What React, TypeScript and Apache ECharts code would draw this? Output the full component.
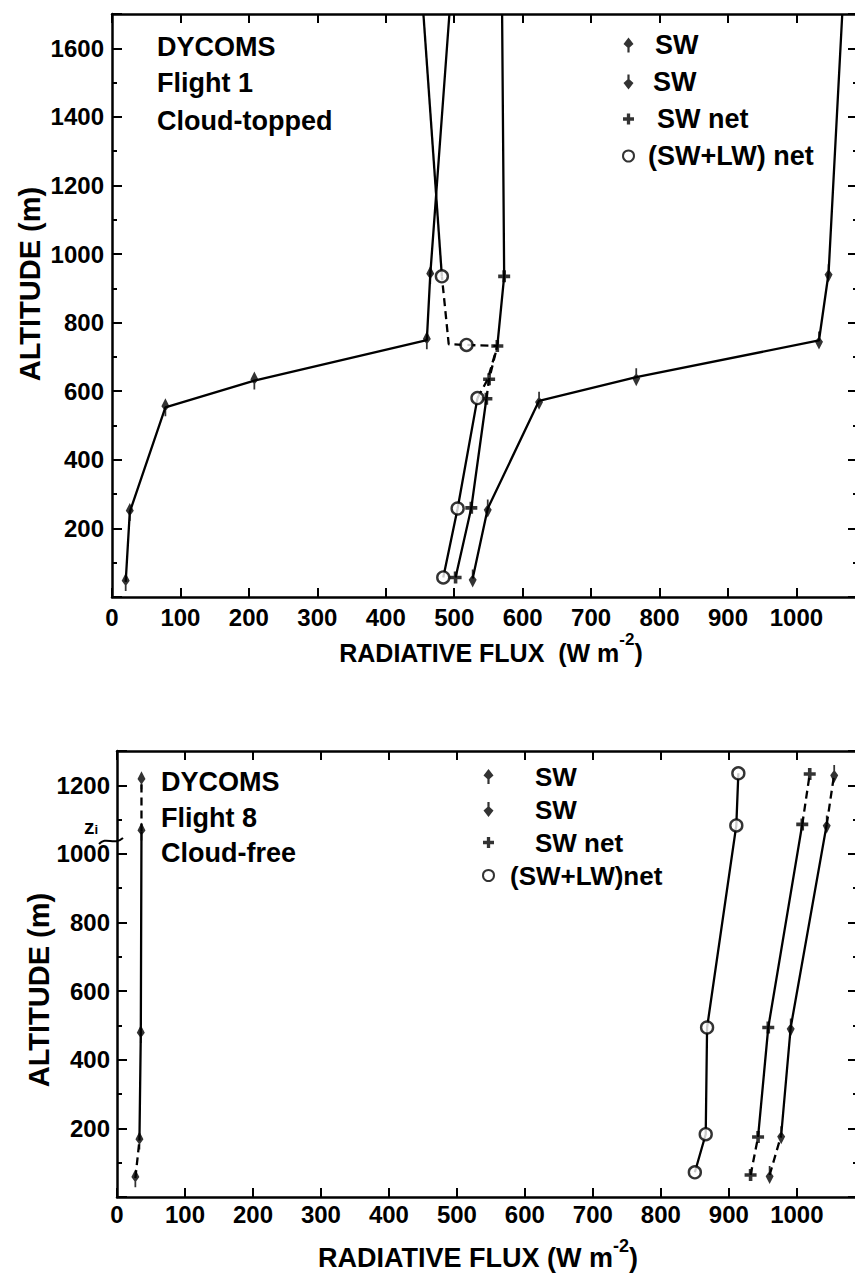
import React, { useEffect, useRef } from "react";
import * as echarts from "echarts";

// ---- Flight 1 (cloud-topped) profiles: flux in W m-2, altitude in m ----
const f1UpFlux = [20, 26, 78, 208, 460, 465, 493];
const f1UpAlt = [44, 248, 553, 631, 749, 939, 1700];
const f1UpMark = [1, 1, 1, 1, 1, 1, 0];
const f1UpDash = [0, 0, 0, 0, 0, 0];

const f1DownFlux = [527, 549, 624, 766, 1033, 1047, 1067];
const f1DownAlt = [54, 258, 572, 641, 748, 944, 1700];
const f1DownMark = [1, 1, 1, 1, 1, 1, 0];
const f1DownDash = [0, 0, 0, 0, 0, 0];

const f1NetFlux = [502, 525, 547, 551, 563, 573, 570];
const f1NetAlt = [57, 260, 578, 635, 732, 935, 1700];
const f1NetMark = [1, 1, 1, 1, 1, 1, 0];
const f1NetDash = [0, 0, 1, 1, 0, 0];

const f1TotFlux = [484, 505, 534, 549, 563, 518, 492, 482, 455];
const f1TotAlt = [57, 258, 580, 635, 732, 735, 737, 935, 1700];
const f1TotMark = [1, 1, 1, 0, 0, 1, 0, 1, 0];
const f1TotDash = [0, 0, 1, 1, 1, 1, 1, 0];

// ---- Flight 8 (cloud-free) profiles ----
const f8UpFlux = [27, 33, 35, 36, 36];
const f8UpAlt = [55, 165, 475, 1065, 1215];
const f8UpDash = [1, 0, 0, 1];

const f8TotFlux = [850, 866, 868, 911, 914];
const f8TotAlt = [72, 183, 494, 1083, 1235];
const f8TotDash = [0, 0, 0, 0];

const f8NetFlux = [932, 943, 958, 1008, 1019];
const f8NetAlt = [64, 175, 494, 1086, 1233];
const f8NetDash = [1, 0, 0, 1];

const f8DownFlux = [960, 977, 991, 1044, 1055];
const f8DownAlt = [64, 180, 494, 1086, 1233];
const f8DownDash = [1, 0, 0, 1];

// axis extents and tick steps
const fluxMax = 1090;
const fluxStep = 100;
const alt1Max = 1700;
const alt8Max = 1300;
const altLabelStep = 200;
const altMinorStep = 100;

// legend / annotation texts
const legendLabels: Record<string, string> = {
  "f1 SW up": "SW",
  "f1 SW down": "SW",
  "f1 SW net": "SW net",
  "f1 SW+LW net": "(SW+LW) net",
  "f8 SW up": "SW",
  "f8 SW down": "SW",
  "f8 SW net": "SW net",
  "f8 SW+LW net": "(SW+LW)net",
};
const f1Title = ["DYCOMS", "Flight 1", "Cloud-topped"];
const f8Title = ["DYCOMS", "Flight 8", "Cloud-free"];

const FONT = '"Liberation Sans", Arial, sans-serif';
const UP = "path://M5,0 L10,6.5 L6.1,10 L6.1,15 L3.9,15 L3.9,10 L0,6.5 Z";
const DOWN = "path://M5,15 L10,8.5 L6.1,5 L6.1,0 L3.9,0 L3.9,5 L0,8.5 Z";
const PLUS = "path://M3.5,0 H6.5 V3.5 H10 V6.5 H6.5 V10 H3.5 V6.5 H0 V3.5 H3.5 Z";

function pairs(xs: number[], ys: number[]) {
  return xs.map((x, i) => [x, ys[i]]);
}

// one line series per run of equally styled segments
function lineRuns(xs: number[], ys: number[], dashes: number[], xi: number, yi: number) {
  const out: any[] = [];
  let start = 0;
  for (let i = 1; i <= dashes.length; i++) {
    if (i === dashes.length || dashes[i] !== dashes[start]) {
      const dashed = dashes[start] === 1;
      out.push({
        type: "line",
        xAxisIndex: xi,
        yAxisIndex: yi,
        data: pairs(xs.slice(start, i + 1), ys.slice(start, i + 1)),
        symbol: "none",
        silent: true,
        z: 2,
        lineStyle: { color: "#000", width: 2.3, type: dashed ? [8, 5] : "solid" },
      });
      start = i;
    }
  }
  return out;
}

function markers(name: string, xs: number[], ys: number[], mark: number[] | null, symbol: string, size: any, xi: number, yi: number, hollow = false) {
  const data = pairs(xs, ys).filter((_, i) => !mark || mark[i] === 1);
  return {
    type: "scatter",
    name,
    xAxisIndex: xi,
    yAxisIndex: yi,
    data,
    symbol,
    symbolSize: size,
    symbolKeepAspect: true,
    z: 5,
    silent: true,
    itemStyle: hollow
      ? { color: "#fff", borderColor: "#000", borderWidth: 2.4 }
      : { color: "#000" },
  };
}

function xAxes(grid: number, margin: number) {
  const common = {
    type: "value",
    gridIndex: grid,
    min: 0,
    max: fluxMax,
    interval: fluxStep,
    splitLine: { show: false },
    axisLine: { show: true, onZero: false, lineStyle: { color: "#000", width: 2.5 } },
    axisTick: { show: true, inside: true, length: 9, lineStyle: { color: "#000", width: 2 } },
  };
  return [
    {
      ...common,
      position: "bottom",
      axisLabel: {
        show: true,
        margin,
        color: "#000",
        fontFamily: FONT,
        fontWeight: "bold",
        fontSize: 24,
        formatter: (v: number) => (v % fluxStep === 0 ? String(v) : ""),
      },
    },
    { ...common, position: "top", axisLabel: { show: false } },
  ];
}

function yAxes(grid: number, max: number, margin: number) {
  const base = {
    type: "value",
    gridIndex: grid,
    min: 0,
    max,
    splitLine: { show: false },
  };
  const line = (show: boolean) => ({
    show,
    onZero: false,
    lineStyle: { color: "#000", width: 2.5 },
  });
  const major = (position: string, labels: boolean) => ({
    ...base,
    position,
    interval: altLabelStep,
    axisLine: line(position === "left"),
    axisTick: { show: true, inside: true, length: 10, lineStyle: { color: "#000", width: 2 } },
    axisLabel: labels
      ? {
          show: true,
          margin,
          color: "#000",
          fontFamily: FONT,
          fontWeight: "bold",
          fontSize: 24,
          formatter: (v: number) => (v > 0 && v % altLabelStep === 0 ? String(v) : ""),
        }
      : { show: false },
  });
  const minor = (position: string) => ({
    ...base,
    position,
    interval: altMinorStep,
    axisLine: line(false),
    axisTick: { show: true, inside: true, length: 5, lineStyle: { color: "#000", width: 2 } },
    axisLabel: { show: false },
  });
  return [major("left", true), minor("left"), major("right", false), minor("right")];
}

function titleBlock(lines: string[], x: number, ys: number[], size: number) {
  return lines.map((t, i) => ({
    type: "text",
    x,
    y: ys[i],
    silent: true,
    style: {
      text: t,
      fill: "#000",
      font: `bold ${size}px ${FONT}`,
      align: "left",
      verticalAlign: "middle",
    },
  }));
}

function fluxTitle(x: number, y: number, size: number, gap: string) {
  return {
    type: "text",
    x,
    y,
    silent: true,
    style: {
      text: `{a|RADIATIVE FLUX${gap}(W m}{s|-2}{a|)}`,
      align: "center",
      verticalAlign: "middle",
      rich: {
        a: { fontFamily: FONT, fontWeight: "bold", fontSize: size, fill: "#000", lineHeight: 34, verticalAlign: "bottom" },
        s: { fontFamily: FONT, fontWeight: "bold", fontSize: Math.round(size * 0.68), fill: "#000", lineHeight: 18, verticalAlign: "top" },
      },
    },
  };
}

function altTitle(x: number, y: number, size: number) {
  return {
    type: "text",
    x,
    y,
    rotation: Math.PI / 2,
    silent: true,
    style: {
      text: "ALTITUDE (m)",
      fill: "#000",
      font: `bold ${size}px ${FONT}`,
      align: "center",
      verticalAlign: "middle",
    },
  };
}

function legendBlock(names: string[], icons: string[], pads: number[], left: number, top: number, gap: number, size: number, lh: number) {
  return {
    orient: "vertical",
    left,
    top,
    padding: 0,
    itemGap: gap,
    itemWidth: 11,
    itemHeight: 15,
    selectedMode: false,
    formatter: (n: string) => legendLabels[n],
    textStyle: { fontFamily: FONT, fontWeight: "bold", fontSize: size, color: "#000", lineHeight: lh },
    data: names.map((n, i) => ({ name: n, icon: icons[i], textStyle: { padding: [0, 0, 0, pads[i]] } })),
  };
}

export default function App() {
  const ref = useRef<HTMLDivElement>(null);

  useEffect(() => {
    if (!ref.current) return;
    const chart = echarts.init(ref.current, null, { renderer: "svg" });

    const series: any[] = [
      // Flight 1
      ...lineRuns(f1UpFlux, f1UpAlt, f1UpDash, 0, 0),
      ...lineRuns(f1DownFlux, f1DownAlt, f1DownDash, 0, 0),
      ...lineRuns(f1NetFlux, f1NetAlt, f1NetDash, 0, 0),
      ...lineRuns(f1TotFlux, f1TotAlt, f1TotDash, 0, 0),
      markers("f1 SW up", f1UpFlux, f1UpAlt, f1UpMark, UP, [12, 18], 0, 0),
      markers("f1 SW down", f1DownFlux, f1DownAlt, f1DownMark, DOWN, [12, 18], 0, 0),
      markers("f1 SW net", f1NetFlux, f1NetAlt, f1NetMark, PLUS, 12, 0, 0),
      markers("f1 SW+LW net", f1TotFlux, f1TotAlt, f1TotMark, "circle", 12, 0, 0, true),
      // Flight 8
      ...lineRuns(f8UpFlux, f8UpAlt, f8UpDash, 2, 4),
      ...lineRuns(f8TotFlux, f8TotAlt, f8TotDash, 2, 4),
      ...lineRuns(f8NetFlux, f8NetAlt, f8NetDash, 2, 4),
      ...lineRuns(f8DownFlux, f8DownAlt, f8DownDash, 2, 4),
      markers("f8 SW up", f8UpFlux, f8UpAlt, null, UP, [12, 18], 2, 4),
      markers("f8 SW down", f8DownFlux, f8DownAlt, null, DOWN, [12, 18], 2, 4),
      markers("f8 SW net", f8NetFlux, f8NetAlt, null, PLUS, 12, 2, 4),
      markers("f8 SW+LW net", f8TotFlux, f8TotAlt, null, "circle", 12, 2, 4, true),
    ];

    const graphic: any[] = [
      ...titleBlock(f1Title, 157, [47, 83, 121], 27),
      ...titleBlock(f8Title, 161, [782, 818, 853], 27),
      altTitle(30, 284, 29),
      altTitle(39, 990, 29),
      fluxTitle(491, 648, 25, "  "),
      fluxTitle(478, 1254, 27, " "),
      {
        type: "text",
        x: 91,
        y: 826,
        silent: true,
        style: {
          text: "{z|z}{i|i}",
          align: "center",
          verticalAlign: "middle",
          rich: {
            z: { fontFamily: FONT, fontWeight: "bold", fontSize: 21, fill: "#000", verticalAlign: "top", lineHeight: 20 },
            i: { fontFamily: FONT, fontWeight: "bold", fontSize: 13, fill: "#000", verticalAlign: "bottom", lineHeight: 20 },
          },
        },
      },
      {
        type: "bezierCurve",
        silent: true,
        shape: { x1: 99, y1: 844, x2: 123, y2: 838, cpx1: 106, cpy1: 836, cpx2: 114, cpy2: 846 },
        style: { stroke: "#000", lineWidth: 2, fill: "none" },
      },
    ];

    chart.setOption({
      animation: false,
      backgroundColor: "#fff",
      grid: [
        { left: 112, top: 14, width: 746, height: 583, outerBoundsMode: "none", containLabel: false },
        { left: 117, top: 751, width: 741, height: 446, outerBoundsMode: "none", containLabel: false },
      ],
      xAxis: [...xAxes(0, 8), ...xAxes(1, 5)],
      yAxis: [...yAxes(0, alt1Max, 8), ...yAxes(1, alt8Max, 7)],
      legend: [
        legendBlock(
          ["f1 SW up", "f1 SW down", "f1 SW net", "f1 SW+LW net"],
          [UP, DOWN, PLUS, "circle"],
          [16, 14, 18, 9],
          622,
          30,
          7,
          27,
          30
        ),
        legendBlock(
          ["f8 SW up", "f8 SW down", "f8 SW net", "f8 SW+LW net"],
          [UP, DOWN, PLUS, "circle"],
          [36, 36, 36, 11],
          482,
          763,
          6,
          26,
          27
        ),
      ],
      graphic,
      series,
    });

    return () => chart.dispose();
  }, []);

  return (
    <div
      ref={ref}
      style={{ position: "absolute", left: 0, top: 0, width: 855, height: 1277, background: "#fff" }}
    />
  );
}
